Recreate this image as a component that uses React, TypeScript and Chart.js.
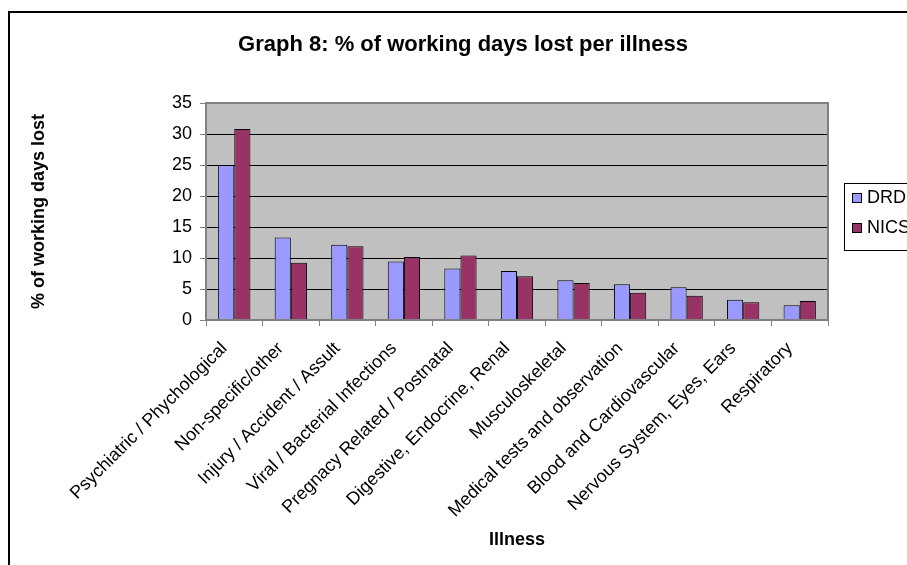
import { useEffect, useRef } from "react";
import { Chart, registerables } from "chart.js";

Chart.register(...registerables);

const categories = [
  "Psychiatric / Phychological",
  "Non-specific/other",
  "Injury / Accident / Assult",
  "Viral / Bacterial Infections",
  "Pregnacy Related / Postnatal",
  "Digestive, Endocrine, Renal",
  "Musculoskeletal",
  "Medical tests and observation",
  "Blood and Cardiovascular",
  "Nervous System, Eyes, Ears",
  "Respiratory",
];
const drdValues = [25.0, 13.3, 12.15, 9.45, 8.3, 7.9, 6.4, 5.75, 5.27, 3.28, 2.36];
const nicsValues = [30.8, 9.25, 11.9, 10.15, 10.4, 7.05, 5.97, 4.4, 3.92, 2.85, 3.06];
const seriesNames = ["DRD", "NICS"];
const seriesColors = ["#9999FF", "#993366"];
const yMin = 0;
const yMax = 35;
const yStep = 5;
const chartTitle = "Graph 8: % of working days lost per illness";
const yTitle = "% of working days lost";
const xTitle = "Illness";

const FONT = "'Liberation Sans', Arial, sans-serif";

const decorPlugin = {
  id: "decor",
  beforeDraw(chart: any) {
    const { ctx, chartArea } = chart;
    ctx.save();
    ctx.fillStyle = "#C0C0C0";
    ctx.fillRect(chartArea.left, chartArea.top, chartArea.right - chartArea.left, chartArea.bottom - chartArea.top);
    ctx.restore();
  },
  afterDatasetsDraw(chart: any) {
    const { ctx, chartArea } = chart;
    ctx.save();
    ctx.strokeStyle = "#808080";
    ctx.lineWidth = 2;
    ctx.strokeRect(chartArea.left, chartArea.top, chartArea.right - chartArea.left, chartArea.bottom - chartArea.top);
    ctx.restore();
  },
  afterDraw(chart: any) {
    const { ctx } = chart;
    ctx.save();
    ctx.fillStyle = "#000";
    ctx.font = `bold 22px ${FONT}`;
    ctx.textAlign = "center";
    ctx.textBaseline = "alphabetic";
    ctx.fillText(chartTitle, 463, 51);
    const bx = 844;
    const by = 183;
    ctx.fillStyle = "#fff";
    ctx.fillRect(bx, by, 100, 67);
    ctx.strokeStyle = "#000";
    ctx.lineWidth = 1;
    ctx.strokeRect(bx + 0.5, by + 0.5, 100, 67);
    chart.data.datasets.forEach((ds: any, i: number) => {
      const cy = by + 14 + i * 30;
      ctx.fillStyle = ds.backgroundColor;
      ctx.fillRect(852, cy - 4, 9, 9);
      ctx.strokeStyle = "#000";
      ctx.strokeRect(852.5, cy - 3.5, 9, 9);
      ctx.fillStyle = "#000";
      ctx.font = `18px ${FONT}`;
      ctx.textAlign = "left";
      ctx.textBaseline = "middle";
      ctx.fillText(ds.label, 867, cy + 1);
    });
    ctx.restore();
  },
};

export default function App() {
  const canvasRef = useRef<HTMLCanvasElement | null>(null);

  useEffect(() => {
    if (!canvasRef.current) return;
    Chart.defaults.font.family = FONT;
    const chart = new Chart(canvasRef.current, {
      type: "bar",
      data: {
        labels: categories,
        datasets: [
          {
            label: seriesNames[0],
            data: drdValues,
            backgroundColor: seriesColors[0],
            borderColor: "#000",
            borderWidth: 1,
            barPercentage: 1,
            categoryPercentage: 0.571,
          },
          {
            label: seriesNames[1],
            data: nicsValues,
            backgroundColor: seriesColors[1],
            borderColor: "#000",
            borderWidth: 1,
            barPercentage: 1,
            categoryPercentage: 0.571,
          },
        ],
      },
      options: {
        responsive: false,
        animation: false,
        devicePixelRatio: 1,
        layout: { padding: { top: 103, right: 79, left: 0, bottom: 0 } },
        plugins: {
          legend: { display: false },
          title: { display: false },
          tooltip: { enabled: false },
        },
        scales: {
          x: {
            grid: {
              offset: true,
              drawOnChartArea: false,
              drawTicks: true,
              tickLength: 6,
              tickColor: "#808080",
              tickWidth: 1,
            },
            border: { display: false },
            ticks: {
              autoSkip: false,
              maxRotation: 45,
              minRotation: 45,
              color: "#000",
              font: { size: 18, family: FONT },
              padding: 2,
            },
            title: {
              display: true,
              text: xTitle,
              color: "#000",
              font: { size: 18, weight: "bold", family: FONT },
              padding: { top: 0, bottom: 14 },
            },
            afterFit: (s: any) => {
              s.height = 245;
            },
            afterUpdate: (s: any) => {
              const orig = s._computeLabelItems.bind(s);
              s._computeLabelItems = (area: any) =>
                orig(area).map((it: any) => ({
                  ...it,
                  options: {
                    ...it.options,
                    translation: [it.options.translation[0] - 10, it.options.translation[1] + 10],
                  },
                }));
            },
          },
          y: {
            min: yMin,
            max: yMax,
            ticks: {
              stepSize: yStep,
              color: "#000",
              font: { size: 18, family: FONT },
              padding: 8,
            },
            grid: {
              color: (c: any) =>
                c.tick && c.tick.value > yMin && c.tick.value < yMax ? "#000" : "rgba(0,0,0,0)",
              tickColor: "#808080",
              tickLength: 6,
              lineWidth: 1,
            },
            border: { display: false },
            title: {
              display: true,
              text: yTitle,
              color: "#000",
              font: { size: 18, weight: "bold", family: FONT },
              padding: { top: 28, bottom: 0 },
            },
            afterFit: (s: any) => {
              s.width = 206;
            },
          },
        },
      },
      plugins: [decorPlugin],
    } as any);
    return () => chart.destroy();
  }, []);

  return (
    <div
      style={{
        position: "fixed",
        left: 0,
        top: 0,
        width: 907,
        height: 565,
        overflow: "hidden",
        background: "#fff",
      }}
    >
      <div
        style={{
          position: "absolute",
          left: 8,
          top: 11,
          width: 1000,
          height: 700,
          borderLeft: "2px solid #000",
          borderTop: "2px solid #000",
          boxSizing: "border-box",
        }}
      />
      <canvas
        ref={canvasRef}
        width={907}
        height={565}
        style={{ position: "absolute", left: 0, top: 0, width: 907, height: 565 }}
      />
    </div>
  );
}
